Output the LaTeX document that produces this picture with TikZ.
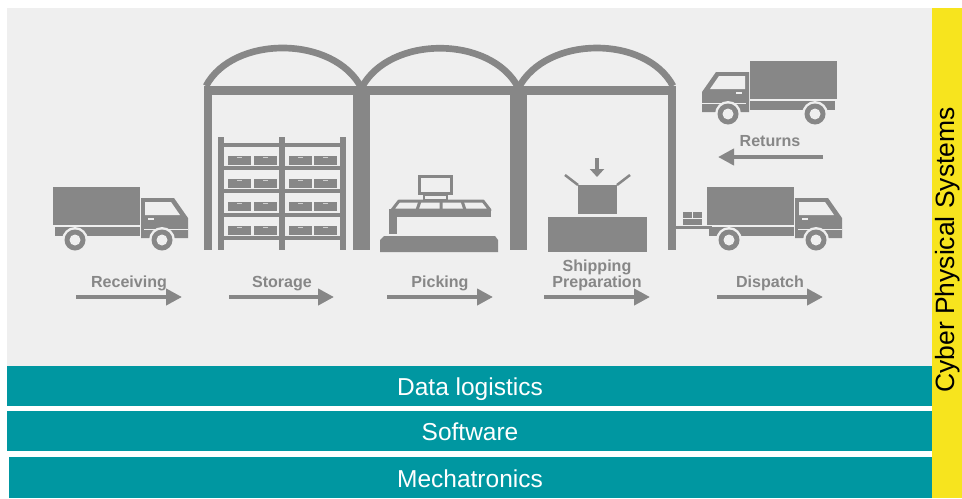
\documentclass[tikz,border=0pt]{standalone}
\usepackage{fontspec}
\setmainfont{Liberation Sans}
\usetikzlibrary{arrows.meta}

\definecolor{ink}{HTML}{878787}
\definecolor{hall}{HTML}{EFEFEF}
\definecolor{bandteal}{HTML}{0097A1}
\definecolor{cpsyellow}{HTML}{F7E41E}

\begin{document}
\begin{tikzpicture}[x=0.03cm, y=-0.03cm]
    \tikzset{
      stage/.style = {text=ink, font=\bfseries\fontsize{13.7}{13.9}\selectfont, inner sep=0pt, anchor=base, align=center},
      flow/.style = {draw=ink, line width=0.12cm, -{Triangle[length=0.48cm, width=0.48cm]}},
      bandtext/.style = {text=white, font=\fontsize{20.9}{22}\selectfont, inner sep=0pt, anchor=base},
      roof/.style = {draw=ink, line width=0.2cm},
      thin/.style = {draw=ink, line width=0.09cm},
      truck/.pic = {
        \fill[ink] (0,0) rectangle (87,38);
        \fill[ink] (2,40) rectangle (87,49);
        \fill[ink] (88,11) -- (121,11) -- (135,31) -- (135,51) -- (88,51) -- cycle;
        \fill[hall] (92,15) -- (118,15) -- (127,28) -- (92,28) -- cycle;
        \fill[hall] (95,31) rectangle (101,32.5);
        \fill[hall] (91,41.5) rectangle (135,43);
        \foreach \wx in {22,109} {
          \fill[hall] (\wx,53) circle (13);
          \fill[ink] (\wx,53) circle (10.5);
          \fill[hall] (\wx,53) circle (5.5);
        }
      }
    }
    \useasboundingbox (0,0) rectangle (962,498);
    \fill[white] (0,0) rectangle (962,498);

    % floor area and side bar
    \fill[hall] (7,8) rectangle (932,366);
    \fill[cpsyellow] (932,8) rectangle (962,498);
    \node[rotate=90, font=\fontsize{22.6}{24}\selectfont, inner sep=0pt] (cps) at (948,250) {Cyber Physical Systems};

    % layers
    \fill[bandteal] (7,366) rectangle (932,406);
    \fill[bandteal] (7,411) rectangle (932,451);
    \fill[bandteal] (9,457) rectangle (932,498);
    \node[bandtext] (datalog) at (470,395) {Data logistics};
    \node[bandtext] (software) at (470,440.7) {Software};
    \node[bandtext] (mechatronics) at (470,487) {Mechatronics};

    % hall frame
    \fill[ink] (204,86) rectangle (676,95);
    \fill[ink] (204,86) rectangle (212,250);
    \fill[ink] (353,86) rectangle (370,250);
    \fill[ink] (510,86) rectangle (527,250);
    \fill[ink] (668,86) rectangle (676,250);
    \draw[roof] (206,86) .. controls (233,35) and (334,35) .. (361.5,88);
    \draw[roof] (361.5,88) .. controls (389,35) and (491,35) .. (518.5,88);
    \draw[roof] (518.5,88) .. controls (546,35) and (646,35) .. (673,86);

    % storage rack
    \fill[ink] (218,137) rectangle (224,250);
    \fill[ink] (279,137) rectangle (285,250);
    \fill[ink] (340,137) rectangle (346,250);
    \foreach \sy in {143,166,189,213,236} {
      \fill[ink] (218,\sy) rectangle (346,\sy+4);
    }
    \foreach \sy in {156,179,202,226} {
      \foreach \bx in {228,254,289,314} {
        \fill[ink] (\bx,\sy) rectangle (\bx+23,\sy+8.5);
        \fill[hall!70!ink] (\bx+9,\sy+1) rectangle (\bx+14,\sy+2);
      }
    }

    % picking station
    \draw[thin] (419.5,176.5) rectangle (451.5,193.5);
    \draw[ink, line width=0.06cm] (424,195) rectangle (447,199.5);
    \draw[thin, line join=round] (399,201) -- (483,201) -- (490,210) -- (392,210) -- cycle;
    \draw[thin] (420,201) -- (417,210) (441,201) -- (441,210) (462,201) -- (465,210);
    \fill[ink] (389,209) rectangle (491,217);
    \fill[ink] (389,209) rectangle (397,234);
    \fill[ink] (380,252) -- (380,240) -- (384,236) -- (495,236) -- (498,240) -- (498,252) -- cycle;

    % shipping preparation
    \fill[ink] (548,217) rectangle (647,252);
    \fill[ink] (578,185) rectangle (617,214);
    \draw[ink, line width=0.075cm] (578,185) -- (565,175) (617,185) -- (630,175);
    \draw[ink, line width=0.12cm, -{Triangle[length=0.24cm, width=0.42cm]}] (597,158) -- (597,177);

    % loading dock
    \fill[ink] (676,226) rectangle (712,229);
    \fill[ink] (683,212) rectangle (702,225);
    \fill[hall] (683,218) rectangle (702,218.8);
    \fill[hall] (692,212) rectangle (692.8,218);

    % trucks
    \pic at (53,187) {truck};
    \pic[xscale=-1] at (837,61) {truck};
    \pic at (707,187) {truck};

    % process steps
    \node[stage] (receiving) at (129,287.7) {Receiving};
    \node[stage] (storage) at (282,287.7) {Storage};
    \node[stage] (picking) at (440,287.7) {Picking};
    \node[stage] (shipping) at (597,287.3) {Shipping\\Preparation};
    \node[stage] (dispatch) at (770,287.7) {Dispatch};
    \node[stage] (returns) at (770,146.7) {Returns};

    \coordinate (recv-a) at (76,297);   \coordinate (recv-b) at (182,297);
    \coordinate (stor-a) at (229,297);  \coordinate (stor-b) at (334,297);
    \coordinate (pick-a) at (387,297);  \coordinate (pick-b) at (493,297);
    \coordinate (ship-a) at (544,297);  \coordinate (ship-b) at (650,297);
    \coordinate (disp-a) at (717,297);  \coordinate (disp-b) at (823,297);
    \coordinate (ret-a) at (823,157);   \coordinate (ret-b) at (718,157);

    \draw[flow] (recv-a) -- (recv-b);
    \draw[flow] (stor-a) -- (stor-b);
    \draw[flow] (pick-a) -- (pick-b);
    \draw[flow] (ship-a) -- (ship-b);
    \draw[flow] (disp-a) -- (disp-b);
    \draw[flow] (ret-a) -- (ret-b);
\end{tikzpicture}
\end{document}
